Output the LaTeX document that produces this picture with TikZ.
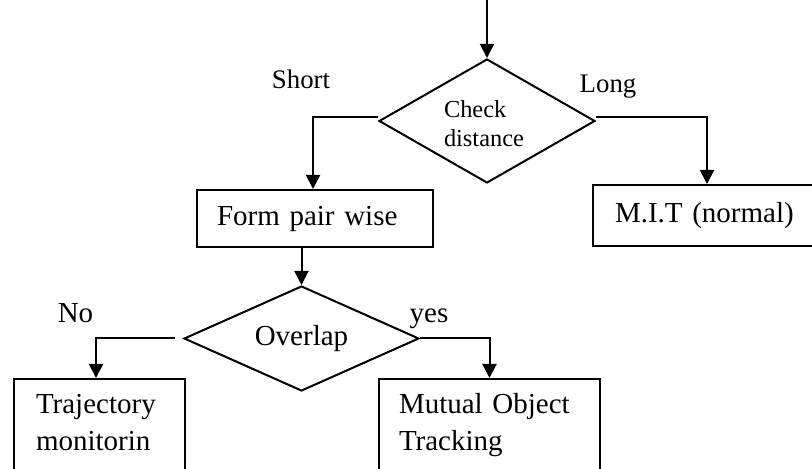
\documentclass[tikz,border=0pt]{standalone}
\usepackage{fontspec}
\setmainfont{Liberation Serif}
\usetikzlibrary{arrows.meta,shapes.geometric,calc}
\begin{document}
\begin{tikzpicture}[x=0.5pt,y=-0.5pt,
  line width=1pt,
  arr/.style={-{Triangle[length=7pt,width=7pt]}},
  dia/.style={draw,diamond,inner sep=0pt},
  box/.style={draw,rectangle,inner sep=0pt},
  big/.style={font=\fontsize{14.5}{18}\selectfont},
  mid/.style={font=\fontsize{13.4}{16}\selectfont},
  small/.style={font=\fontsize{12.2}{14.5}\selectfont}]
\useasboundingbox (0,0) rectangle (812,469);
\clip (0,0) rectangle (812,469);
\coordinate (start) at (487,0);
% decisions
\node[dia, aspect=1.74, minimum width=108pt, minimum height=62pt] (d1) at (487,121) {};
\node[small, anchor=base west, text width=60pt, align=left, inner sep=0pt] (cd) at (443,118) {Check\\distance};
\node[dia, big, aspect=2.24, minimum width=117.5pt, minimum height=52.5pt] (d2) at (301.5,338.5) {Overlap};
% boxes
\node[box, big, minimum width=118pt, minimum height=28.5pt, text width=98pt, align=left, inner xsep=10pt] (form) at (315,218.5) {Form pair wise};
\node[box, big, minimum width=114pt, minimum height=30.5pt, text width=92pt, align=left, inner xsep=11pt] (mit) at (707,215.5) {M.I.T (normal)};
\node[box, minimum width=85.5pt, minimum height=60pt, anchor=north west] (tr) at (13,378) {};
\node[big, anchor=base west, text width=80pt, align=left, inner sep=0pt] (trt) at (35,414) {Trajectory\\monitorin};
\node[box, minimum width=110.5pt, minimum height=60pt, anchor=north west] (mut) at (378,378) {};
\node[big, anchor=base west, text width=100pt, align=left, inner sep=0pt] (mutt) at (398,414) {Mutual Object\\Tracking};
% labels
\node[mid, anchor=base] (ls) at (301,89) {Short};
\node[mid, anchor=base] (ll) at (608,93) {Long};
\node[big, anchor=base] (lno) at (75.5,323) {No};
\node[big, anchor=base] (lyes) at (429,323) {yes};
% connectors
\draw[arr] (start) -- (d1.north);
\draw[arr] ([yshift=2pt]d1.west) -| ([xshift=-1pt]form.north);
\draw[arr] ([yshift=2pt]d1.east) -| (mit.north);
\draw[arr] (d2.north |- form.south) -- (d2.north);
\draw[arr] ([xshift=-4pt]d2.west) -| ([xshift=-1.75pt]tr.north);
\draw[arr] (d2.east) -| (mut.north);
\end{tikzpicture}
\end{document}
